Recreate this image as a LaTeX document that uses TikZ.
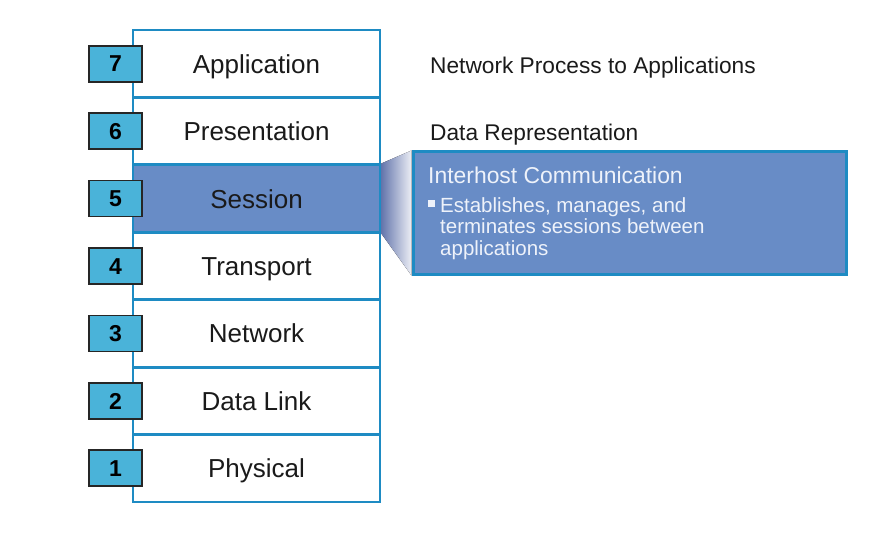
\documentclass[tikz,border=0pt]{standalone}
\usepackage{fontspec}
\setmainfont{Liberation Sans}
\definecolor{stackblue}{RGB}{30,139,195}
\definecolor{sessblue}{RGB}{104,140,198}
\definecolor{numblue}{RGB}{74,179,217}
\definecolor{textgray}{RGB}{26,26,26}
\definecolor{calltext}{RGB}{238,242,250}
\definecolor{shadeL}{RGB}{100,118,172}
\definecolor{shadeR}{RGB}{236,238,245}
\begin{document}
\begin{tikzpicture}[x=1pt,y=-1pt,
  layer/.style={draw=stackblue, line width=2.8pt, minimum width=247pt, minimum height=67.43pt,
    inner sep=0pt, text=textgray, font=\fontsize{26}{30}\selectfont, text height=19pt, text depth=-3pt},
  numbox/.style={draw=black!85, line width=1.6pt, fill=numblue, minimum width=53pt, minimum height=36pt,
    inner sep=0pt, text=black, font=\bfseries\fontsize{23}{26}\selectfont, text height=16.5pt, text depth=0pt},
  sidelabel/.style={anchor=west, inner sep=0pt, text=textgray, font=\fontsize{22.7}{26}\selectfont,
    text height=16.3pt, text depth=0pt},
  callout/.style={draw=stackblue, line width=3pt, fill=sessblue, minimum width=433pt, minimum height=122pt, inner sep=0pt},
  calltitle/.style={anchor=base west, inner sep=0pt, text=calltext, font=\fontsize{22.9}{26}\selectfont},
  callbody/.style={anchor=north west, inner sep=0pt, text=calltext, align=left, font=\fontsize{20.5}{21.5}\selectfont},
]
\useasboundingbox (0,0) rectangle (894,540);

% layers
\node[layer] (l7) at (256.5, 63.71) {Application};
\node[layer] (l6) at (256.5,131.14) {Presentation};
\node[layer] (l4) at (256.5,266.0) {Transport};
\node[layer] (l3) at (256.5,333.43) {Network};
\node[layer] (l2) at (256.5,400.86) {Data Link};
\node[layer] (l1) at (256.5,468.29) {Physical};
\node[layer, fill=sessblue] (l5) at (256.5,198.57) {Session};

% number boxes
\node[numbox] (n7) at (115.5, 63.71) {7};
\node[numbox] (n6) at (115.5,131.14) {6};
\node[numbox] (n5) at (115.5,198.57) {5};
\node[numbox] (n4) at (115.5,266.0) {4};
\node[numbox] (n3) at (115.5,333.43) {3};
\node[numbox] (n2) at (115.5,400.86) {2};
\node[numbox] (n1) at (115.5,468.29) {1};

% side labels
\node[sidelabel] (d7) at (430,65) {Network Process to Applications};
\node[sidelabel] (d6) at (430,132) {Data Representation};

% callout
\node[callout] (call) at (629.5,213) {};
\fill[left color=shadeL, right color=shadeR]
  (l5.north east) -- (call.north west) -- (call.south west) -- (l5.south east) -- cycle;
\node[calltitle] (ct) at (428,184) {Interhost Communication};
\node[fill=calltext, minimum size=7pt, inner sep=0pt] (bul) at (431.5,203.5) {};
\node[callbody] (cb) at (440,197) {Establishes, manages, and\\terminates sessions between\\applications};
\end{tikzpicture}
\end{document}
